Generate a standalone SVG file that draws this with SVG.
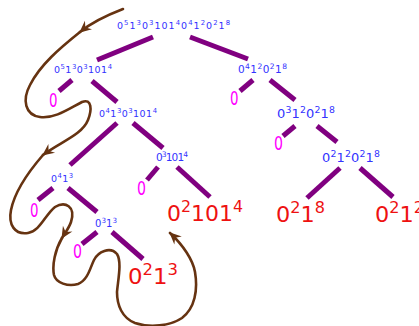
<svg xmlns="http://www.w3.org/2000/svg" width="419" height="326" viewBox="0 0 419 326">
<defs>
<style>
text{font-family:"DejaVu Sans","Liberation Sans",sans-serif}
.b{fill:#3333ff}
.r{fill:#ee1111}
.p{fill:#ff00ff}
.s{font-size:72%;baseline-shift:super}
.e{stroke:#800080;stroke-width:5;fill:none}
.c{stroke:#663311;stroke-width:2.6;fill:none;stroke-linecap:round}
</style>
<marker id="ah" markerUnits="userSpaceOnUse" markerWidth="15" markerHeight="13" refX="0" refY="0" viewBox="-13 -6.5 15 13" orient="auto">
<path d="M1,0 L-11,-5.5 L-7,0 L-11,5.5 Z" fill="#663311"/>
</marker>
</defs>
<g id="edges">
<line class="e" x1="153" y1="37" x2="97" y2="60" stroke-width="6.5"/>
<line class="e" x1="190" y1="37" x2="248" y2="59" stroke-width="6.5"/>
<line class="e" x1="72" y1="80" x2="59" y2="91"/>
<line class="e" x1="92" y1="81" x2="117" y2="102"/>
<line class="e" x1="253" y1="80" x2="240" y2="91"/>
<line class="e" x1="270" y1="80" x2="295" y2="100"/>
<line class="e" x1="117" y1="123" x2="70" y2="165" stroke-width="5.5"/>
<line class="e" x1="133" y1="123" x2="163" y2="148"/>
<line class="e" x1="295" y1="126" x2="283" y2="136"/>
<line class="e" x1="317" y1="126" x2="337" y2="142"/>
<line class="e" x1="158" y1="167" x2="147" y2="180"/>
<line class="e" x1="177" y1="167" x2="210" y2="197"/>
<line class="e" x1="53" y1="188" x2="38" y2="200"/>
<line class="e" x1="68" y1="188" x2="97" y2="212"/>
<line class="e" x1="97" y1="232" x2="82" y2="244"/>
<line class="e" x1="112" y1="232" x2="143" y2="259"/>
<line class="e" x1="340" y1="168" x2="307" y2="198"/>
<line class="e" x1="360" y1="168" x2="393" y2="197"/>
</g>
<g id="n-root"><text class="b" x="117" y="28.5" font-size="9.5" textLength="113" lengthAdjust="spacing">0<tspan class="s">5</tspan>1<tspan class="s">3</tspan>0<tspan class="s">3</tspan>101<tspan class="s">4</tspan>0<tspan class="s">4</tspan>1<tspan class="s">2</tspan>0<tspan class="s">2</tspan>1<tspan class="s">8</tspan></text></g>
<g id="n-l1"><text class="b" x="54" y="73" font-size="9.5" textLength="58" lengthAdjust="spacing">0<tspan class="s">5</tspan>1<tspan class="s">3</tspan>0<tspan class="s">3</tspan>101<tspan class="s">4</tspan></text></g>
<g id="n-r1"><text class="b" x="238" y="73" font-size="10.5" textLength="49" lengthAdjust="spacing">0<tspan class="s">4</tspan>1<tspan class="s">2</tspan>0<tspan class="s">2</tspan>1<tspan class="s">8</tspan></text></g>
<g id="n-l2"><text class="b" x="99" y="117" font-size="9.5" textLength="58" lengthAdjust="spacing">0<tspan class="s">4</tspan>1<tspan class="s">3</tspan>0<tspan class="s">3</tspan>101<tspan class="s">4</tspan></text></g>
<g id="n-r2"><text class="b" x="277" y="118" font-size="13" textLength="58" lengthAdjust="spacing">0<tspan class="s">3</tspan>1<tspan class="s">2</tspan>0<tspan class="s">2</tspan>1<tspan class="s">8</tspan></text></g>
<g id="n-l3a"><text class="b" x="51" y="182" font-size="9.5" textLength="22" lengthAdjust="spacing">0<tspan class="s">4</tspan>1<tspan class="s">3</tspan></text></g>
<g id="n-l3b"><text class="b" x="156" y="161" font-size="10.5" textLength="32" lengthAdjust="spacing">0<tspan class="s">3</tspan>101<tspan class="s">4</tspan></text></g>
<g id="n-r3"><text class="b" x="322" y="162" font-size="13" textLength="58" lengthAdjust="spacing">0<tspan class="s">2</tspan>1<tspan class="s">2</tspan>0<tspan class="s">2</tspan>1<tspan class="s">8</tspan></text></g>
<g id="n-l4"><text class="b" x="95" y="227" font-size="10" textLength="22" lengthAdjust="spacing">0<tspan class="s">3</tspan>1<tspan class="s">3</tspan></text></g>
<g id="leaf-a"><text class="p" x="49" y="107" font-size="19" textLength="8.5" lengthAdjust="spacingAndGlyphs">0</text></g>
<g id="leaf-b"><text class="p" x="230" y="105" font-size="19" textLength="8.5" lengthAdjust="spacingAndGlyphs">0</text></g>
<g id="leaf-c"><text class="p" x="274" y="150" font-size="20" textLength="9" lengthAdjust="spacingAndGlyphs">0</text></g>
<g id="leaf-d"><text class="p" x="137" y="195" font-size="19" textLength="9" lengthAdjust="spacingAndGlyphs">0</text></g>
<g id="leaf-e"><text class="p" x="30" y="217" font-size="19" textLength="8.5" lengthAdjust="spacingAndGlyphs">0</text></g>
<g id="leaf-f"><text class="p" x="73" y="258" font-size="19" textLength="9" lengthAdjust="spacingAndGlyphs">0</text></g>
<g id="leaf-r1"><text class="r" x="167" y="221" font-size="22" textLength="76" lengthAdjust="spacingAndGlyphs">0<tspan class="s">2</tspan>101<tspan class="s">4</tspan></text></g>
<g id="leaf-r2"><text class="r" x="128" y="284" font-size="22" textLength="50" lengthAdjust="spacingAndGlyphs">0<tspan class="s">2</tspan>1<tspan class="s">3</tspan></text></g>
<g id="leaf-r3"><text class="r" x="276" y="222" font-size="22" textLength="49" lengthAdjust="spacingAndGlyphs">0<tspan class="s">2</tspan>1<tspan class="s">8</tspan></text></g>
<g id="leaf-r4"><text class="r" x="375" y="222" font-size="22" textLength="49" lengthAdjust="spacingAndGlyphs">0<tspan class="s">2</tspan>1<tspan class="s">2</tspan></text></g>
<g id="traversal">
<path class="c" d="M123,9 C110,14 92,22 80,32" marker-end="url(#ah)"/>
<path class="c" d="M80,32 C60,48 40,65 30,85 C22,100 25,115 40,117 C55,119 70,108 82,102 C92,98 92,110 88,120 C82,135 60,142 43,155" marker-end="url(#ah)"/>
<path class="c" d="M43,155 C30,170 15,190 11,210 C8,225 15,235 28,233 C40,231 45,215 55,207 C65,201 76,206 71,222 C69,228 65,233 62,238" marker-end="url(#ah)"/>
<path class="c" d="M62,238 C55,250 52,265 54,275 C56,283 68,287 78,284 C88,280 90,268 94,260 C98,252 110,246 117,254 C122,262 118,280 117,292 C117,305 122,318 135,323 C150,328 170,326 182,318 C195,308 198,290 195,272 C193,260 183,245 170,233" marker-end="url(#ah)"/>
</g>
</svg>
